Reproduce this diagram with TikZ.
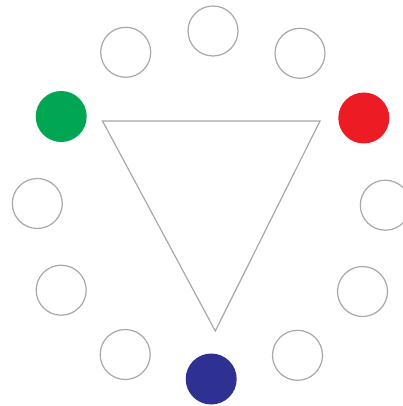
\documentclass[tikz,border=0pt]{standalone}
\definecolor{ringgray}{HTML}{A8A8A8}
\definecolor{cgreen}{HTML}{00A651}
\definecolor{cred}{HTML}{ED1C24}
\definecolor{cblue}{HTML}{2E3192}
\begin{document}
\begin{tikzpicture}[x=1pt,y=-1pt,
  hole/.style={circle,draw=ringgray,line width=1.2pt,minimum size=50pt,inner sep=0pt,outer sep=0pt},
  dot/.style={circle,minimum size=51pt,inner sep=0pt,outer sep=0pt},
  tri/.style={draw=ringgray,line width=1.2pt,line join=miter}]
\useasboundingbox (0,0) rectangle (403,406);
\node[hole] (c12) at (213,31) {};
\node[hole] (c11) at (125.7,52.3) {};
\node[hole] (c1) at (300,53.3) {};
\node[dot,fill=cgreen] (g) at (61.2,116.5) {};
\node[dot,fill=cred] (r) at (363.8,118) {};
\node[hole] (c9) at (37.3,203.5) {};
\node[hole] (c3) at (385.3,205.2) {};
\node[hole] (c8) at (61.2,290.2) {};
\node[hole] (c4) at (362.5,291.5) {};
\node[hole] (c7) at (125.2,354.5) {};
\node[hole] (c5) at (297.5,355.3) {};
\node[dot,fill=cblue] (b) at (211.2,379) {};
\coordinate (t1) at (102.5,121);
\coordinate (t2) at (320,121);
\coordinate (t3) at (215.3,331);
\draw[tri] (t1) -- (t2) -- (t3) -- cycle;
\end{tikzpicture}
\end{document}
